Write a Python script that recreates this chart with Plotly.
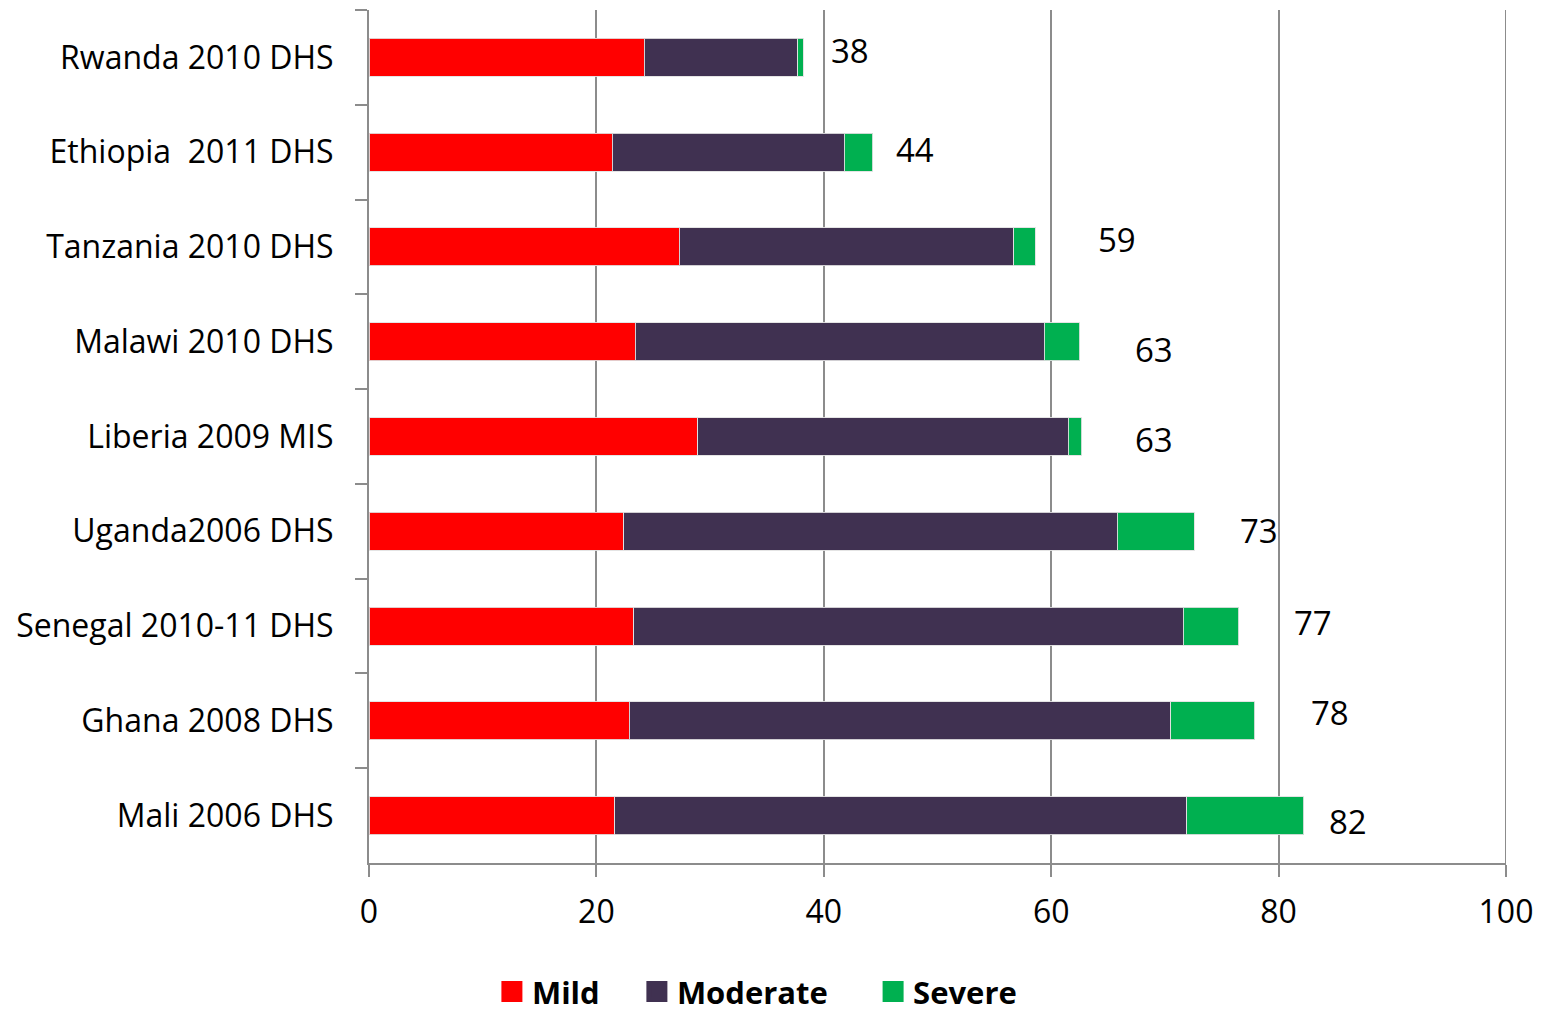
import plotly.graph_objects as go

categories = [
    "Rwanda 2010 DHS",
    "Ethiopia\u00a0 2011 DHS",
    "Tanzania 2010 DHS",
    "Malawi 2010 DHS",
    "Liberia 2009 MIS",
    "Uganda2006 DHS",
    "Senegal 2010-11 DHS",
    "Ghana 2008 DHS",
    "Mali 2006 DHS",
]
mild = [24.2, 21.4, 27.3, 23.4, 28.9, 22.4, 23.3, 22.9, 21.6]
moderate = [13.5, 20.4, 29.4, 36.0, 32.6, 43.4, 48.3, 47.6, 50.3]
severe = [0.5, 2.5, 1.9, 3.1, 1.2, 6.8, 4.9, 7.4, 10.3]
total_labels = ["38", "44", "59", "63", "63", "73", "77", "78", "82"]
x_ticks = [0, 20, 40, 60, 80, 100]

# label placement (pixels) relative to the end of each stacked bar
label_xshift = [47, 42, 82, 74, 72, 65, 74, 75, 44]
label_yshift = [7, 3, 7, -8, -3, 1, 4, 8, -6]

colors = {"Mild": "#FF0000", "Moderate": "#403151", "Severe": "#00B050"}
legend_pad = {"Mild": 4, "Moderate": 5, "Severe": 0}
FONT = "Open Sans"
GRID = "#8C8C8C"

fig = go.Figure()
for name, vals in [("Mild", mild), ("Moderate", moderate), ("Severe", severe)]:
    fig.add_trace(go.Bar(
        y=categories, x=vals, orientation="h", name=name,
        marker=dict(color=colors[name], line=dict(color="rgba(225,225,225,0.9)", width=1)),
        showlegend=False,
    ))
# legend entries
for name in ["Mild", "Moderate", "Severe"]:
    fig.add_trace(go.Scatter(
        x=[None], y=[None], mode="markers", name=name + "\u00a0" * legend_pad[name],
        marker=dict(symbol="square", size=16, color=colors[name],
                    line=dict(color=colors[name], width=5)),
        showlegend=True,
    ))

totals = [a + b + c for a, b, c in zip(mild, moderate, severe)]
for cat, tot, lab, dx, dy in zip(categories, totals, total_labels, label_xshift, label_yshift):
    fig.add_annotation(
        x=tot, y=cat, text=lab, showarrow=False, xanchor="center", yanchor="middle",
        xshift=dx, yshift=dy, font=dict(family=FONT, size=33, color="black"),
    )

# gridline at the right end of the value axis
fig.add_shape(type="line", xref="x", yref="paper", x0=x_ticks[-1], x1=x_ticks[-1],
              y0=0, y1=1, line=dict(color=GRID, width=2), layer="below")

fig.update_layout(
    barmode="stack",
    bargap=0.6,
    width=1541, height=1016,
    margin=dict(l=369, r=35, t=10, b=153, autoexpand=False),
    paper_bgcolor="white", plot_bgcolor="white",
    font=dict(family=FONT, size=32, color="black"),
    legend=dict(
        orientation="h", traceorder="normal",
        x=0.1081, xanchor="left", y=-0.1512, yanchor="middle",
        font=dict(family=FONT, size=31, color="black", weight="bold"),
        itemclick=False, bgcolor="rgba(0,0,0,0)",
    ),
    xaxis=dict(
        range=[0, 100], tickvals=x_ticks, ticktext=[str(v) for v in x_ticks],
        showgrid=True, gridcolor=GRID, gridwidth=2,
        zeroline=False, showline=True, linecolor=GRID, linewidth=2,
        ticks="outside", ticklen=12, tickcolor=GRID, tickwidth=2,
        tickfont=dict(family=FONT, size=32, color="black"),
        ticklabelstandoff=8,
    ),
    yaxis=dict(
        categoryorder="array", categoryarray=categories, autorange="reversed",
        showgrid=False, zeroline=False, showline=True, linecolor=GRID, linewidth=2,
        ticks="outside", ticklen=12, tickcolor=GRID, tickwidth=2, tickson="boundaries",
        tickfont=dict(family=FONT, size=32, color="black"),
        ticklabelstandoff=27,
    ),
)

fig.write_html("out.html")
